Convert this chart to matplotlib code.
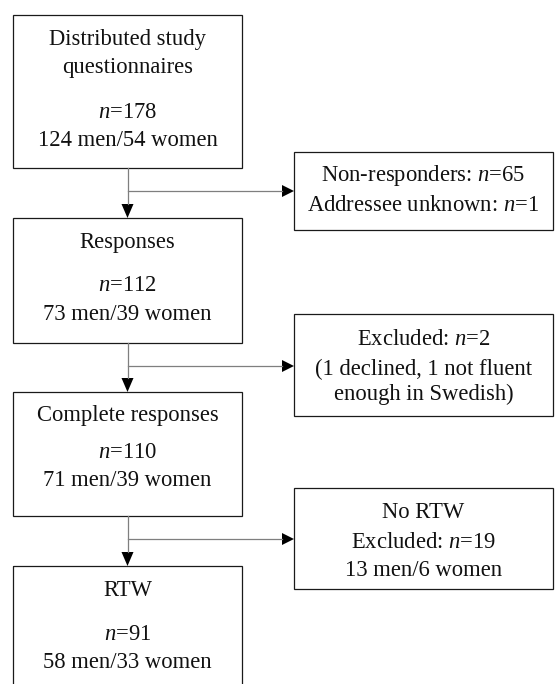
import matplotlib
matplotlib.use("Agg")
import matplotlib.pyplot as plt
from matplotlib.patches import Rectangle, Polygon

plt.rcParams['font.family'] = ['Liberation Serif', 'DejaVu Serif']
plt.rcParams['mathtext.fontset'] = 'custom'
plt.rcParams['mathtext.it'] = 'Liberation Serif:italic'
plt.rcParams['mathtext.rm'] = 'Liberation Serif'

# ---- data ----
main_titles = [["Distributed study", "questionnaires"], ["Responses"], ["Complete responses"], ["RTW"]]
main_n = [178, 112, 110, 91]
main_men = [124, 73, 71, 58]
main_women = [54, 39, 39, 33]

nonresp_n = 65
unknown_n = 1
excluded_n = 2
declined_n = 1
not_fluent_n = 1
no_rtw_n = 19
no_rtw_men = 13
no_rtw_women = 6

side_lines = [
    [f"Non-responders: $n$={nonresp_n}", f"Addressee unknown: $n$={unknown_n}"],
    [f"Excluded: $n$={excluded_n}", f"({declined_n} declined, {not_fluent_n} not fluent", "enough in Swedish)"],
    ["No RTW", f"Excluded: $n$={no_rtw_n}", f"{no_rtw_men} men/{no_rtw_women} women"],
]

# ---- layout (pixel space) ----
W, H = 555, 684
fig = plt.figure(figsize=(W / 100, H / 100), dpi=100)
ax = fig.add_axes([0, 0, 1, 1])
ax.set_xlim(0, W)
ax.set_ylim(H, 0)
ax.axis('off')

main_x0, main_x1 = 13, 242
main_boxes = [(14.5, 168), (218, 343), (392, 516), (566, 720)]
main_baselines = [[45, 73, 118, 146], [248, 291, 320], [421, 458, 486], [596, 640, 668]]

side_x0, side_x1 = 294, 553
side_boxes = [(152, 230), (314, 416), (488, 589)]
side_baselines = [[181, 211], [345, 375, 400], [518, 548, 576]]
branch_y = [191, 366, 539]

fs = 16.3
mcx = (main_x0 + main_x1) / 2
scx = (side_x0 + side_x1) / 2
box_kw = dict(fill=False, edgecolor='#1a1a1a', linewidth=0.9)
conn_kw = dict(color='#7f7f7f', linewidth=0.9)

for i, (y0, y1) in enumerate(main_boxes):
    ax.add_patch(Rectangle((main_x0, y0), main_x1 - main_x0, y1 - y0, **box_kw))
    lines = main_titles[i] + [f"$n$={main_n[i]}", f"{main_men[i]} men/{main_women[i]} women"]
    for txt, yb in zip(lines, main_baselines[i]):
        ax.text(mcx, yb, txt, ha='center', va='baseline', fontsize=fs, color='#111111')

for i, (y0, y1) in enumerate(side_boxes):
    ax.add_patch(Rectangle((side_x0, y0), side_x1 - side_x0, y1 - y0, **box_kw))
    for txt, yb in zip(side_lines[i], side_baselines[i]):
        ax.text(scx, yb, txt, ha='center', va='baseline', fontsize=fs, color='#111111')

ah_len, ah_half = 14, 6
for i in range(3):
    top = main_boxes[i][1]
    nxt = main_boxes[i + 1][0]
    ax.plot([mcx, mcx], [top, nxt - ah_len], **conn_kw)
    ax.add_patch(Polygon([(mcx - ah_half, nxt - ah_len), (mcx + ah_half, nxt - ah_len), (mcx, nxt)],
                         closed=True, color='black', lw=0))
    by = branch_y[i]
    tip = side_x0
    ax.plot([mcx, tip - 12], [by, by], **conn_kw)
    ax.add_patch(Polygon([(tip - 12, by - ah_half), (tip - 12, by + ah_half), (tip, by)],
                         closed=True, color='black', lw=0))

fig.savefig("out.png", dpi=100, facecolor='white')
